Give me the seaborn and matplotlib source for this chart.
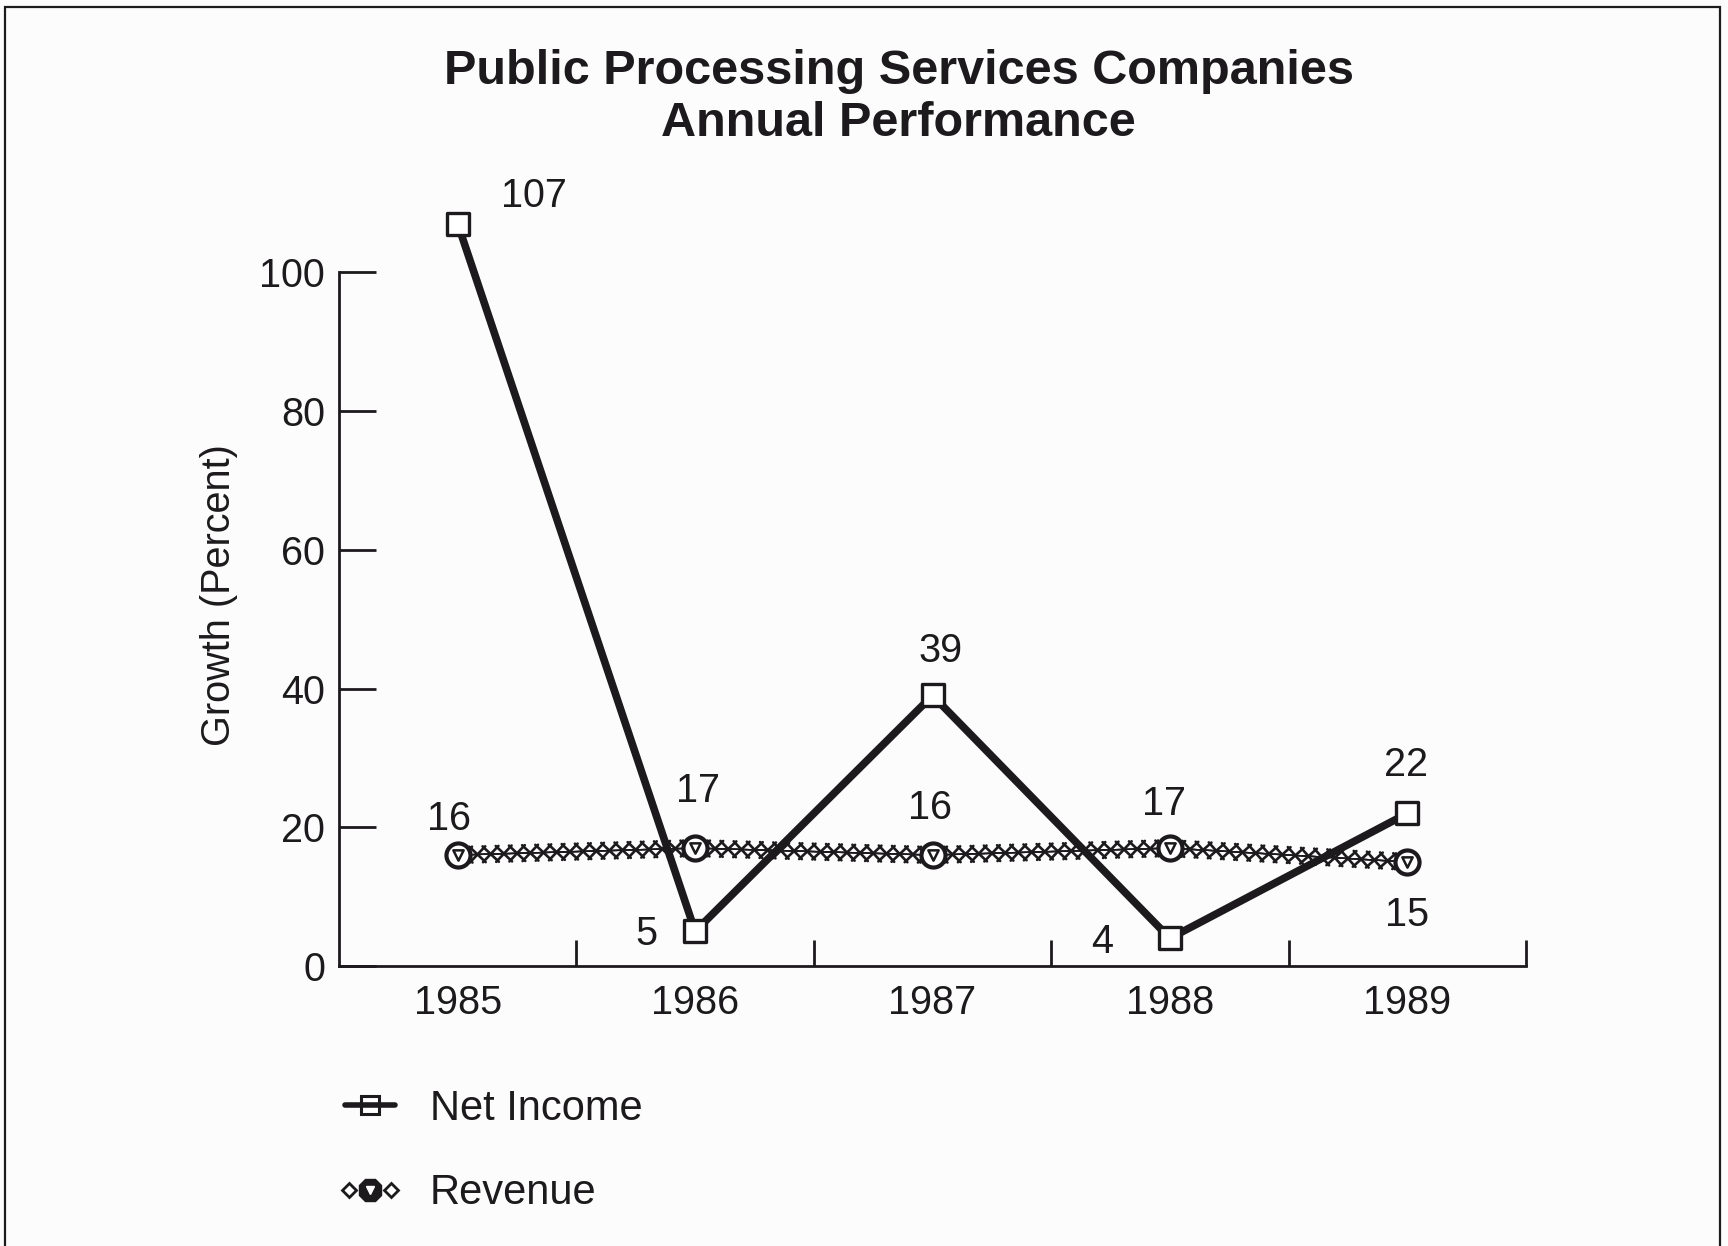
import numpy as np
import pandas as pd
import matplotlib
matplotlib.use("Agg")
import matplotlib.pyplot as plt
import matplotlib.patheffects as pe
from matplotlib.lines import Line2D
from matplotlib.patches import Rectangle
from matplotlib.legend_handler import HandlerLine2D, HandlerTuple
import seaborn as sns

# ---- data ----
years = ["1985", "1986", "1987", "1988", "1989"]
net_income = [107, 5, 39, 4, 22]
revenue = [16, 17, 16, 17, 15]
y_ticks = [0, 20, 40, 60, 80, 100]

# value-label offsets in points (dx, dy) from each point
net_income_offsets = [(55, 20), (-35, -2), (6, 32), (-49, -3), (-1, 35)]
revenue_offsets = [(-6, 26), (2, 41), (-2, 34), (-4, 32), (0, -38)]

df = pd.DataFrame({"Year": years, "Net Income": net_income, "Revenue": revenue})

sns.set_theme(style="white")
plt.rcParams["font.family"] = ["Liberation Sans", "DejaVu Sans"]

BG = "#fcfcfc"
INK = "#1c1a1c"
FS = 28.5

fig = plt.figure(figsize=(17.28, 12.46), dpi=100, facecolor=BG)
ax = fig.add_axes([0.1962, 0.2247, 0.6869, 0.6124])
ax.set_facecolor(BG)

# Net Income: heavy solid line with hollow squares
sns.lineplot(data=df, x="Year", y="Net Income", ax=ax, color=INK, lw=5.5,
             sort=False, zorder=2)
sns.scatterplot(data=df, x="Year", y="Net Income", ax=ax, marker="s", s=272,
                facecolor="white", edgecolor=INK, linewidth=2.4, zorder=3,
                clip_on=False)

# Revenue: chain of crosses drawn as ticked strokes along the path
spacing = 9.5
chain = [pe.withTickedStroke(spacing=spacing, angle=a, length=0.85,
                             linewidth=1.9, foreground=INK)
         for a in (45, 135, -45, -135)]
sns.lineplot(data=df, x="Year", y="Revenue", ax=ax, color=INK, lw=1.0,
             sort=False, zorder=4)
rev_line = ax.lines[-1]
rev_line.set_path_effects(chain)
sns.scatterplot(data=df, x="Year", y="Revenue", ax=ax, marker="o", s=300,
                facecolor="white", edgecolor=INK, linewidth=3.0, zorder=5)
sns.scatterplot(data=df, x="Year", y="Revenue", ax=ax, marker="v", s=55,
                facecolor="white", edgecolor=INK, linewidth=1.8, zorder=6)

# value labels
for i, (v, off) in enumerate(zip(net_income, net_income_offsets)):
    ax.annotate(f"{v}", xy=(i, v), xytext=off, textcoords="offset points",
                ha="center", va="center", fontsize=FS, color=INK,
                annotation_clip=False)
for i, (v, off) in enumerate(zip(revenue, revenue_offsets)):
    ax.annotate(f"{v}", xy=(i, v), xytext=off, textcoords="offset points",
                ha="center", va="center", fontsize=FS, color=INK,
                annotation_clip=False)

# axes styling
ax.set_xlim(-0.5, 4.5)
ax.set_ylim(0, 110)
ax.set_yticks(y_ticks)
ax.set_yticklabels([str(t) for t in y_ticks])
ax.set_xticks(range(len(years)))
ax.set_xticklabels(years)
ax.set_xticks(np.arange(0.5, len(years), 1.0), minor=True)
ax.set_xlabel("")
ax.set_ylabel("")

for s in ("top", "right"):
    ax.spines[s].set_visible(False)
for s in ("left", "bottom"):
    ax.spines[s].set_color(INK)
    ax.spines[s].set_linewidth(2.0)
ax.spines["left"].set_bounds(0, 100)

ax.tick_params(axis="y", which="major", direction="in", length=26.5, width=2.0,
               color=INK, labelsize=FS, labelcolor=INK, pad=10, left=True)
ax.tick_params(axis="x", which="major", length=0, labelsize=FS,
               labelcolor=INK, pad=13)
ax.tick_params(axis="x", which="minor", direction="in", length=19, width=2.0,
               color=INK, bottom=True)
ax.grid(False)

# titles
fig.text(0.520, 1 - 72 / 1246, "Public Processing Services Companies",
         ha="center", va="center", fontsize=35, fontweight="bold", color=INK)
fig.text(0.520, 1 - 123 / 1246, "Annual Performance",
         ha="center", va="center", fontsize=35, fontweight="bold", color=INK)
fig.text(219 / 1728, 1 - 595 / 1246, "Growth (Percent)", rotation=90,
         ha="center", va="center", fontsize=FS, color=INK)

# legend
ni_box = Line2D([], [], linestyle="none", marker="s", markersize=13,
                markerfacecolor="white", markeredgecolor=INK,
                markeredgewidth=2.2)
ni_bar = Line2D([], [], color=INK, lw=4)
rev_side = Line2D([], [], linestyle="none", marker="D", markersize=7,
                  markerfacecolor="white", markeredgecolor=INK,
                  markeredgewidth=2)
rev_mid = Line2D([], [], linestyle="none", marker="8", markersize=17,
                 markerfacecolor=INK, markeredgecolor=INK)
rev_tri = Line2D([], [], linestyle="none", marker="v", markersize=6,
                 markerfacecolor="white", markeredgecolor="white")
leg = fig.legend([(ni_box, ni_bar), (rev_side, rev_mid, rev_tri)],
                 ["Net Income", "Revenue"],
                 handler_map={rev_side: HandlerLine2D(numpoints=2, marker_pad=0.1),
                              tuple: HandlerTuple(ndivide=1)},
                 loc="center left", bbox_to_anchor=(345 / 1728, 1 - 1151 / 1246),
                 frameon=False, fontsize=30, handlelength=1.2,
                 handletextpad=0.84, labelspacing=1.06, borderpad=0,
                 borderaxespad=0)
for t in leg.get_texts():
    t.set_color(INK)

# page frame
fig.patches.append(Rectangle((5 / 1728, -0.02), (1720 - 5) / 1728,
                             (1246 - 7) / 1246 + 0.02, transform=fig.transFigure,
                             fill=False, lw=1.6, edgecolor=INK))

fig.savefig("out.png", dpi=100, facecolor=BG)
